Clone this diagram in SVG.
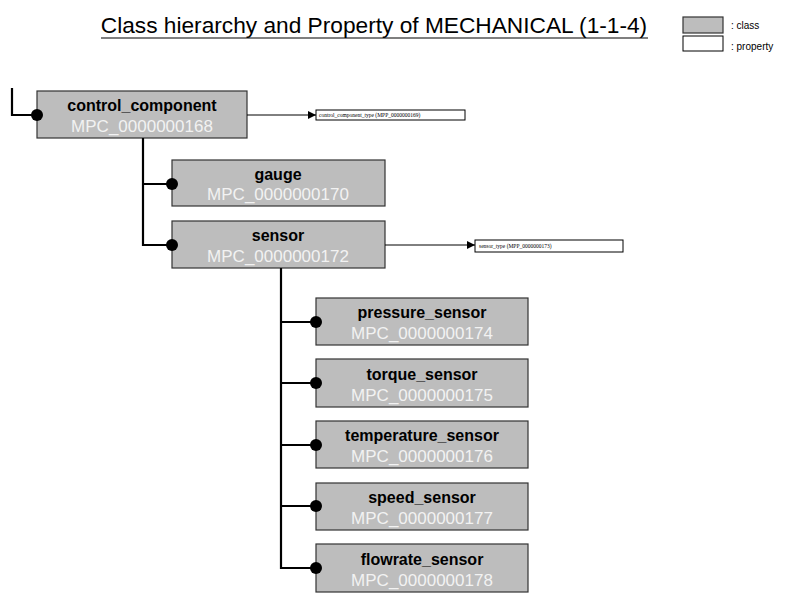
<svg xmlns="http://www.w3.org/2000/svg" width="800" height="613" viewBox="0 0 800 613">
<defs>
<marker id="arr" viewBox="0 0 10 10" refX="10" refY="5" markerWidth="10" markerHeight="8" markerUnits="userSpaceOnUse" orient="auto"><path d="M0,0 L10,5 L0,10 z" fill="#000"/></marker>
</defs>
<style>
text{font-family:"Liberation Sans",Arial,sans-serif}
.cls{fill:#bdbdbd;stroke:#333;stroke-width:1.2}
.prop{fill:#fff;stroke:#000;stroke-width:1}
.nm{font-size:16px;font-weight:bold;fill:#000;text-anchor:middle}
.id{font-size:17px;fill:#f2f2f2;text-anchor:middle}
.pl{font-family:"Liberation Serif",serif;font-size:5.5px;fill:#000}
.tree{fill:none;stroke:#000;stroke-width:2.2}
.ln{fill:none;stroke:#000;stroke-width:1}
.dot{fill:#000}
</style>
<rect width="800" height="613" fill="#fff"/>
<g id="title">
<text x="374" y="33" font-size="22.7" text-anchor="middle" fill="#000">Class hierarchy and Property of MECHANICAL (1-1-4)</text>
<line x1="101" y1="38" x2="648" y2="38" stroke="#000" stroke-width="1.2"/>
</g>
<g id="legend">
<rect x="683" y="17" width="40" height="16" class="cls"/>
<text x="731" y="29" font-size="10">: class</text>
<rect x="683" y="36" width="40" height="15" class="prop"/>
<text x="731" y="50" font-size="10">: property</text>
</g>
<g id="control_component">
<rect x="37" y="91" width="210" height="47" class="cls"/>
<text x="142" y="111" class="nm">control_component</text>
<text x="142" y="132" class="id">MPC_0000000168</text>
</g>
<g id="control_component_type">
<rect x="316" y="110" width="149" height="10" class="prop"/>
<text x="319" y="117" class="pl">control_component_type (MPP_0000000169)</text>
</g>
<g id="gauge">
<rect x="172" y="160" width="213" height="46" class="cls"/>
<text x="278" y="180" class="nm">gauge</text>
<text x="278" y="200" class="id">MPC_0000000170</text>
</g>
<g id="sensor">
<rect x="172" y="221" width="213" height="47" class="cls"/>
<text x="278" y="241" class="nm">sensor</text>
<text x="278" y="262" class="id">MPC_0000000172</text>
</g>
<g id="sensor_type">
<rect x="475" y="240" width="148" height="12" class="prop"/>
<text x="479" y="248" class="pl">sensor_type (MPP_0000000173)</text>
</g>
<g id="pressure_sensor">
<rect x="316" y="298" width="212" height="47" class="cls"/>
<text x="422" y="318" class="nm">pressure_sensor</text>
<text x="422" y="339" class="id">MPC_0000000174</text>
</g>
<g id="torque_sensor">
<rect x="316" y="359" width="212" height="48" class="cls"/>
<text x="422" y="380" class="nm">torque_sensor</text>
<text x="422" y="401" class="id">MPC_0000000175</text>
</g>
<g id="temperature_sensor">
<rect x="316" y="421" width="212" height="47" class="cls"/>
<text x="422" y="441" class="nm">temperature_sensor</text>
<text x="422" y="462" class="id">MPC_0000000176</text>
</g>
<g id="speed_sensor">
<rect x="316" y="483" width="212" height="47" class="cls"/>
<text x="422" y="503" class="nm">speed_sensor</text>
<text x="422" y="524" class="id">MPC_0000000177</text>
</g>
<g id="flowrate_sensor">
<rect x="316" y="544" width="212" height="48" class="cls"/>
<text x="422" y="565" class="nm">flowrate_sensor</text>
<text x="422" y="586" class="id">MPC_0000000178</text>
</g>
<g id="connectors">
<path class="tree" d="M12,88 V115 H37"/>
<path class="tree" d="M143,138 V245 H172 M143,184 H172"/>
<path class="tree" d="M281,268 V568 H316 M281,322 H316 M281,383 H316 M281,445 H316 M281,506 H316"/>
<line class="ln" x1="247" y1="115" x2="316" y2="115" marker-end="url(#arr)"/>
<line class="ln" x1="385" y1="245" x2="475" y2="245" marker-end="url(#arr)"/>
<circle class="dot" cx="37" cy="115" r="6"/>
<circle class="dot" cx="172" cy="184" r="6"/>
<circle class="dot" cx="172" cy="245" r="6"/>
<circle class="dot" cx="316" cy="322" r="6"/>
<circle class="dot" cx="316" cy="383" r="6"/>
<circle class="dot" cx="316" cy="445" r="6"/>
<circle class="dot" cx="316" cy="506" r="6"/>
<circle class="dot" cx="316" cy="568" r="6"/>
</g>
</svg>
